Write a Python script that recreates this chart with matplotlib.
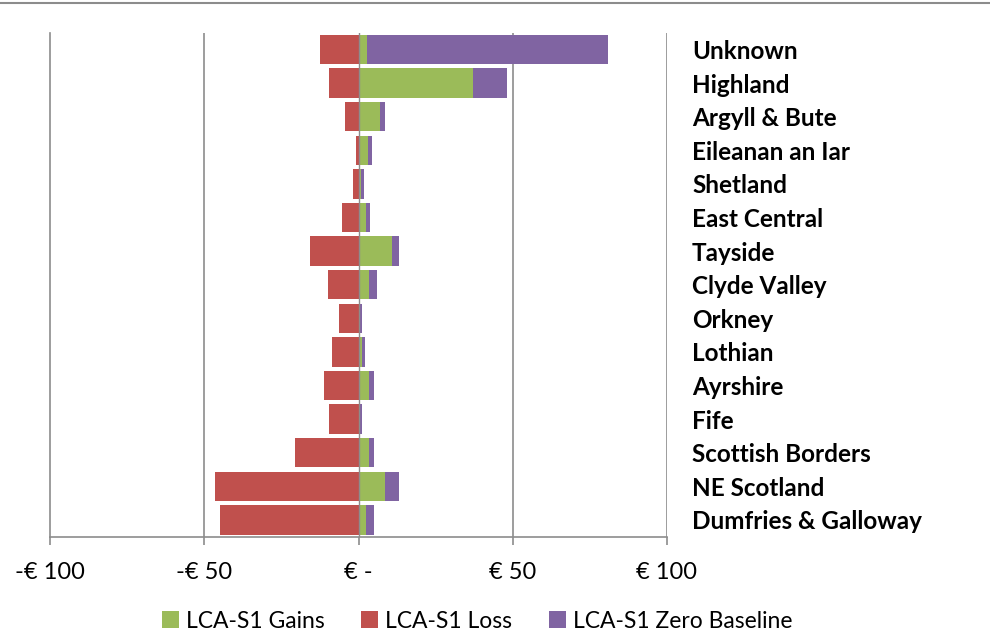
import matplotlib
matplotlib.use("Agg")
import matplotlib.pyplot as plt
from matplotlib.lines import Line2D

plt.rcParams['font.family'] = ['Lato', 'DejaVu Sans']

regions = ["Unknown", "Highland", "Argyll & Bute", "Eileanan an Iar", "Shetland",
           "East Central", "Tayside", "Clyde Valley", "Orkney", "Lothian",
           "Ayrshire", "Fife", "Scottish Borders", "NE Scotland", "Dumfries & Galloway"]
loss = [-12.6, -9.6, -4.4, -0.7, -1.8, -5.5, -15.8, -10.0, -6.4, -8.5,
        -11.1, -9.6, -20.5, -46.4, -44.9]
gains = [2.8, 37.2, 7.1, 3.2, 0.9, 2.5, 10.8, 3.4, 0.3, 1.0,
         3.4, 0.4, 3.4, 8.6, 2.4]
zero_base = [78.0, 10.8, 1.5, 1.2, 0.9, 1.3, 2.4, 2.6, 0.8, 1.2,
             1.5, 0.8, 1.5, 4.6, 2.5]
xticks = [-100, -50, 0, 50, 100]
xlabels = ["-€ 100", "-€ 50", "€ -", "€ 50", "€ 100"]

green = "#9BBB59"
red = "#C0504D"
purple = "#8064A2"
grey = "#8C8C8C"

fig = plt.figure(figsize=(9.9, 6.35), dpi=100)
ax = fig.add_axes([50 / 990, 1 - 536.7 / 635, 617 / 990, 504 / 635])

y = list(range(len(regions)))
h = 0.88
ax.barh(y, gains, height=h, color=green, label="LCA-S1 Gains", zorder=2)
ax.barh(y, loss, height=h, color=red, label="LCA-S1 Loss", zorder=2)
ax.barh(y, zero_base, left=gains, height=h, color=purple,
        label="LCA-S1 Zero Baseline", zorder=2)

ax.set_xlim(-100, 100)
ax.set_ylim(len(regions) - 0.5, -0.5)

for v in [-50, 50, 100]:
    ax.axvline(v, color=grey, lw=1.2, zorder=1)
ax.axvline(0, color=grey, lw=1.0, zorder=3)

for s in ["top", "right"]:
    ax.spines[s].set_visible(False)
ax.spines["left"].set_color(grey)
ax.spines["bottom"].set_color(grey)
ax.spines["left"].set_linewidth(1.2)
ax.spines["bottom"].set_linewidth(1.2)

ax.set_xticks(xticks)
ax.set_xticklabels(xlabels)
ax.tick_params(axis="x", length=6, width=1.2, color=grey, pad=12, labelsize=17)

ax.set_yticks(y)
ax.set_yticklabels(regions, fontweight="bold")
ax.yaxis.tick_right()
ax.tick_params(axis="y", length=0, pad=18, labelsize=17.5)

fig.add_artist(Line2D([0, 1], [1 - 3 / 635, 1 - 3 / 635], color=grey, lw=1.5))

fig.legend(loc="center", bbox_to_anchor=(477 / 990, 1 - 621 / 635), ncol=3,
           frameon=False, fontsize=16.5, handlelength=0.75, handleheight=0.75,
           handletextpad=0.3, columnspacing=1.6)

fig.savefig("out.png", dpi=100)
